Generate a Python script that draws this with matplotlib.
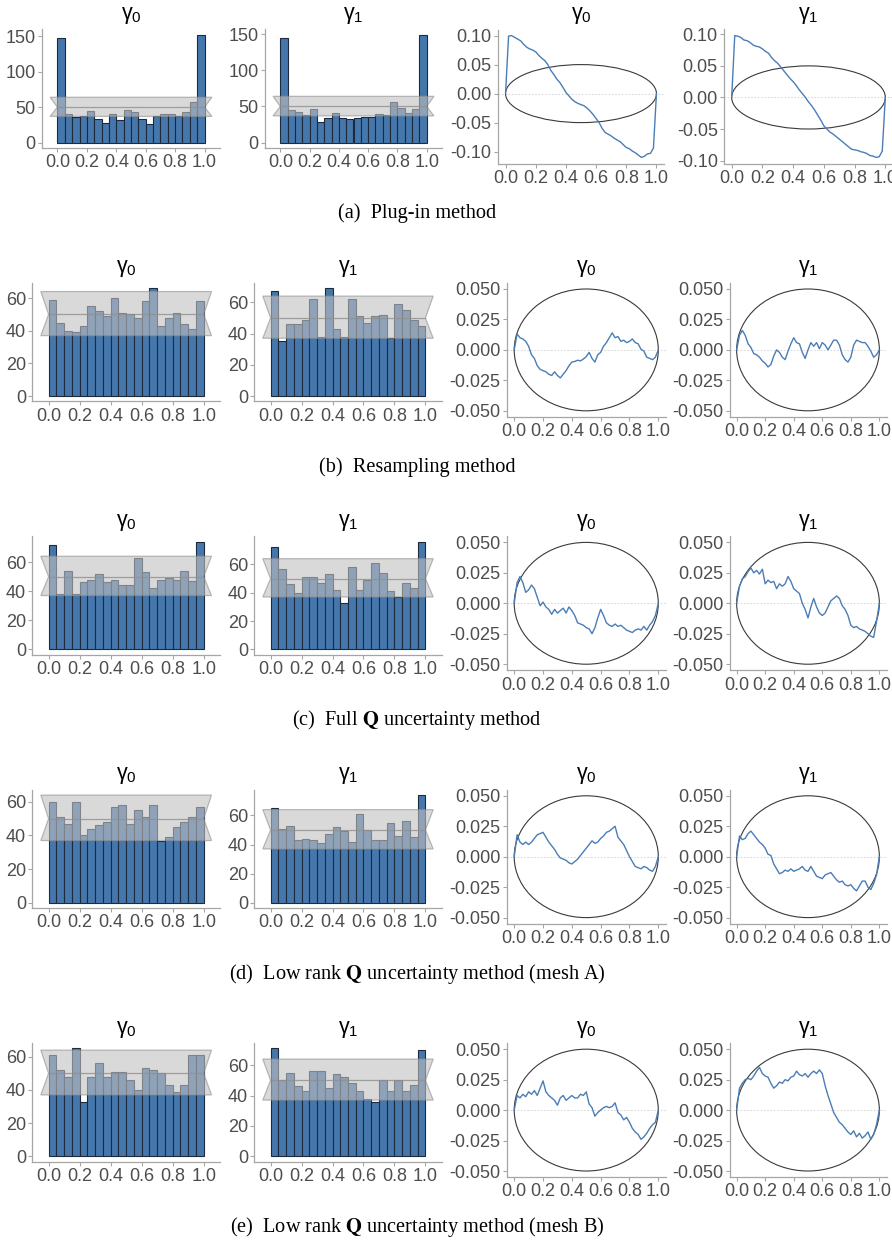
import numpy as np
import matplotlib.pyplot as plt
from matplotlib.patches import Ellipse, Polygon

plt.rcParams['font.family'] = ['Liberation Sans', 'DejaVu Sans']
plt.rcParams['mathtext.fontset'] = 'custom'
plt.rcParams['mathtext.rm'] = 'Liberation Sans'
plt.rcParams['mathtext.it'] = 'Liberation Sans:italic'
plt.rcParams['mathtext.bf'] = 'Liberation Sans:bold'
plt.rcParams['axes.unicode_minus'] = False

# rank histograms: 20 bins on [0, 1], counts per bin
BIN_EDGES = np.linspace(0, 1, 21)
BAND_LOW, BAND_MID, BAND_HIGH = 37, 50, 64

hist_a0 = [147, 40, 36, 38, 44, 33, 27, 40, 32, 46, 43, 34, 26, 38, 41, 41, 38, 43, 58, 152]
hist_a1 = [145, 45, 43, 38, 46, 29, 34, 41, 34, 33, 34, 35, 35, 39, 38, 56, 48, 41, 46, 149]
hist_b0 = [59, 45, 40, 39, 43, 55, 52, 49, 60, 51, 50, 48, 58, 66, 43, 48, 51, 44, 41, 58]
hist_b1 = [67, 35, 46, 46, 49, 62, 38, 69, 43, 38, 62, 51, 47, 51, 52, 37, 59, 55, 49, 45]
hist_c0 = [72, 38, 54, 38, 46, 48, 52, 46, 48, 44, 44, 63, 53, 42, 48, 49, 48, 54, 47, 74]
hist_c1 = [72, 57, 46, 40, 51, 51, 47, 53, 42, 33, 58, 42, 49, 61, 54, 41, 37, 47, 43, 76]
hist_d0 = [60, 51, 47, 60, 40, 44, 46, 48, 57, 58, 47, 55, 51, 58, 37, 39, 45, 48, 51, 57]
hist_d1 = [65, 51, 53, 43, 44, 43, 41, 47, 52, 49, 42, 61, 50, 43, 43, 55, 46, 56, 45, 74]
hist_e0 = [61, 52, 48, 65, 33, 48, 56, 48, 51, 51, 46, 40, 53, 52, 50, 43, 39, 43, 61, 61]
hist_e1 = [71, 50, 55, 46, 43, 56, 56, 45, 54, 52, 48, 43, 38, 36, 50, 43, 50, 43, 47, 70]

# ECDF difference curves sampled every 0.02 on [0, 1]
ECDF_X = np.linspace(0, 1, 51)
ECDF_BAND = 0.1  # full height of the simultaneous band ellipse

ecdf_a0 = [0.0, 0.099, 0.100, 0.097, 0.094, 0.091, 0.085, 0.080, 0.077, 0.075,
           0.072, 0.066, 0.061, 0.057, 0.050, 0.040, 0.033, 0.025, 0.019, 0.011,
           0.002, -0.004, -0.010, -0.014, -0.017, -0.019, -0.021, -0.025, -0.030, -0.036,
           -0.043, -0.050, -0.060, -0.067, -0.070, -0.073, -0.077, -0.080, -0.083, -0.088,
           -0.093, -0.095, -0.099, -0.102, -0.106, -0.110, -0.108, -0.104, -0.103, -0.094, 0.0]
ecdf_a1 = [0.0, 0.098, 0.097, 0.095, 0.091, 0.090, 0.087, 0.083, 0.081, 0.080,
           0.077, 0.073, 0.070, 0.063, 0.058, 0.054, 0.048, 0.042, 0.036, 0.030,
           0.025, 0.019, 0.012, 0.006, 0.000, -0.007, -0.013, -0.020, -0.028, -0.036,
           -0.045, -0.050, -0.055, -0.058, -0.062, -0.066, -0.070, -0.074, -0.078, -0.082,
           -0.083, -0.084, -0.086, -0.087, -0.089, -0.092, -0.093, -0.095, -0.094, -0.085, 0.0]
ecdf_b0 = [0.0, 0.013, 0.010, 0.009, 0.007, 0.003, -0.004, -0.007, -0.013, -0.016,
           -0.017, -0.018, -0.020, -0.021, -0.018, -0.021, -0.023, -0.020, -0.017, -0.013,
           -0.010, -0.0095, -0.0085, -0.009, -0.0075, -0.0055, -0.002, -0.007, -0.010, -0.004,
           -0.002, 0.003, 0.006, 0.010, 0.014, 0.010, 0.011, 0.007, 0.008, 0.006,
           0.007, 0.009, 0.006, 0.005, 0.0005, -0.001, -0.006, -0.007, -0.008, -0.006, 0.0]
ecdf_b1 = [0.0, 0.012, 0.016, 0.012, 0.005, 0.002, -0.003, -0.004, -0.006, -0.009,
           -0.011, -0.014, -0.012, -0.005, 0.0, -0.002, -0.006, -0.008, -0.001, 0.005,
           0.010, 0.006, 0.005, -0.002, -0.007, 0.0, 0.006, 0.003, 0.006, 0.001,
           0.006, 0.004, 0.0, 0.004, 0.008, 0.008, 0.004, -0.004, -0.008, -0.010,
           -0.006, 0.004, 0.008, 0.007, 0.006, 0.006, 0.003, -0.001, -0.006, -0.004, 0.0]
ecdf_c0 = [0.0, 0.017, 0.022, 0.017, 0.009, 0.011, 0.015, 0.012, 0.005, -0.002,
           0.001, -0.003, -0.005, -0.009, -0.005, -0.008, -0.006, -0.004, -0.008, -0.003,
           -0.006, -0.010, -0.016, -0.017, -0.018, -0.020, -0.021, -0.025, -0.020, -0.012,
           -0.005, -0.010, -0.016, -0.018, -0.019, -0.017, -0.019, -0.018, -0.020, -0.022,
           -0.023, -0.024, -0.022, -0.021, -0.022, -0.019, -0.022, -0.018, -0.015, -0.010, 0.0]
ecdf_c1 = [0.0, 0.014, 0.020, 0.022, 0.026, 0.029, 0.025, 0.027, 0.024, 0.028,
           0.016, 0.019, 0.017, 0.018, 0.012, 0.016, 0.014, 0.016, 0.022, 0.018,
           0.012, 0.010, 0.008, 0.000, -0.005, -0.012, -0.003, 0.004, -0.003, -0.008,
           -0.010, -0.008, -0.003, 0.002, 0.004, 0.006, 0.004, -0.002, -0.005, -0.010,
           -0.018, -0.020, -0.019, -0.021, -0.022, -0.023, -0.025, -0.027, -0.028, -0.015, 0.0]
ecdf_d0 = [0.0, 0.018, 0.012, 0.010, 0.012, 0.010, 0.012, 0.015, 0.018, 0.019,
           0.020, 0.016, 0.012, 0.009, 0.006, 0.002, -0.001, -0.002, -0.003, -0.005,
           -0.006, -0.004, -0.002, 0.001, 0.004, 0.007, 0.010, 0.013, 0.011, 0.012,
           0.015, 0.017, 0.020, 0.021, 0.023, 0.025, 0.016, 0.013, 0.010, 0.005,
           0.000, -0.004, -0.008, -0.009, -0.010, -0.008, -0.009, -0.011, -0.012, -0.008, 0.0]
ecdf_d1 = [0.0, 0.017, 0.014, 0.015, 0.019, 0.021, 0.018, 0.015, 0.012, 0.010,
           0.007, 0.002, 0.001, -0.006, -0.010, -0.014, -0.013, -0.011, -0.012, -0.010,
           -0.012, -0.011, -0.010, -0.008, -0.011, -0.012, -0.008, -0.012, -0.016, -0.017,
           -0.018, -0.015, -0.014, -0.013, -0.016, -0.019, -0.021, -0.020, -0.023, -0.024,
           -0.023, -0.026, -0.028, -0.024, -0.020, -0.020, -0.025, -0.027, -0.022, -0.015, 0.0]
ecdf_e0 = [0.0, 0.012, 0.010, 0.013, 0.011, 0.015, 0.013, 0.016, 0.012, 0.018,
           0.024, 0.015, 0.012, 0.010, 0.008, 0.004, 0.010, 0.012, 0.008, 0.010,
           0.012, 0.010, 0.010, 0.013, 0.012, 0.015, 0.005, 0.002, -0.005, -0.002,
           0.000, 0.002, 0.003, 0.002, 0.003, 0.006, -0.002, -0.004, -0.008, -0.006,
           -0.010, -0.015, -0.018, -0.020, -0.024, -0.022, -0.019, -0.015, -0.012, -0.010, 0.0]
ecdf_e1 = [0.0, 0.018, 0.022, 0.025, 0.026, 0.025, 0.028, 0.032, 0.035, 0.030,
           0.028, 0.027, 0.022, 0.018, 0.020, 0.023, 0.022, 0.025, 0.024, 0.027,
           0.028, 0.032, 0.029, 0.028, 0.030, 0.027, 0.030, 0.032, 0.030, 0.033,
           0.030, 0.020, 0.012, 0.005, -0.002, -0.006, -0.010, -0.012, -0.015, -0.018,
           -0.020, -0.017, -0.022, -0.019, -0.023, -0.021, -0.018, -0.024, -0.020, -0.012, 0.0]

captions = [r'(a)  Plug-in method',
            r'(b)  Resampling method',
            r'(c)  Full $\mathbf{Q}$ uncertainty method',
            r'(d)  Low rank $\mathbf{Q}$ uncertainty method (mesh A)',
            r'(e)  Low rank $\mathbf{Q}$ uncertainty method (mesh B)']
rows = [(hist_a0, hist_a1, ecdf_a0, ecdf_a1),
        (hist_b0, hist_b1, ecdf_b0, ecdf_b1),
        (hist_c0, hist_c1, ecdf_c0, ecdf_c1),
        (hist_d0, hist_d1, ecdf_d0, ecdf_d1),
        (hist_e0, hist_e1, ecdf_e0, ecdf_e1)]
titles = [r'$\mathrm{\gamma}_0$', r'$\mathrm{\gamma}_1$']

BAR_BLUE = '#4677AC'
BAR_EDGE = '#1d2a3b'
LINE_BLUE = '#4a7db5'
BAND_GREY = '#c0c0c0'
BAND_EDGE = '#8f8f8f'
AXIS_GREY = '#a6a6a6'
TICK_TEXT = '#4d4d4d'

W, H = 892, 1245
fig = plt.figure(figsize=(W / 100, H / 100), dpi=100)


def place(left, top, right, bottom):
    return fig.add_axes([left / W, 1 - bottom / H, (right - left) / W, (bottom - top) / H])


def style(ax):
    for s in ('top', 'right'):
        ax.spines[s].set_visible(False)
    for s in ('left', 'bottom'):
        ax.spines[s].set_color(AXIS_GREY)
        ax.spines[s].set_linewidth(0.9)
    ax.tick_params(colors=AXIS_GREY, labelcolor=TICK_TEXT, labelsize=13,
                   length=3, width=0.8, pad=1.5)
    ax.set_xticks([0, 0.2, 0.4, 0.6, 0.8, 1.0])
    ax.set_xticklabels(['%.1f' % v for v in ax.get_xticks()])


def rank_hist(ax, counts):
    ax.bar(BIN_EDGES[:-1], counts, width=0.05, align='edge', color=BAR_BLUE,
           edgecolor=BAR_EDGE, linewidth=0.8, zorder=1)
    band = Polygon([(-0.05, BAND_HIGH), (1.05, BAND_HIGH), (1.0, BAND_MID),
                    (1.05, BAND_LOW), (-0.05, BAND_LOW), (0.0, BAND_MID)],
                   closed=True, facecolor=BAND_GREY, edgecolor=BAND_EDGE,
                   linewidth=0.9, alpha=0.6, zorder=2)
    ax.add_patch(band)
    ax.plot([0, 1], [BAND_MID, BAND_MID], color=BAND_EDGE, lw=0.9, alpha=0.8, zorder=3)
    top = max(max(counts), BAND_HIGH)
    ax.set_xlim(-0.105, 1.105)
    ax.set_ylim(-0.05 * top, 1.05 * top)
    step = 50 if top > 100 else 20
    ax.set_yticks(np.arange(0, 1.05 * top, step))
    ax.set_yticklabels(['%d' % v for v in ax.get_yticks()])
    style(ax)


def ecdf_diff(ax, y):
    ax.axhline(0, color='#d0d0d0', lw=0.6, ls=(0, (2, 2)), zorder=1)
    ax.add_patch(Ellipse((0.5, 0), 1.0, ECDF_BAND, fill=False,
                         edgecolor='#3a3a3a', lw=0.8, zorder=2))
    ax.plot(ECDF_X, y, color=LINE_BLUE, lw=1.0, zorder=3)
    lo = min(min(y), -ECDF_BAND / 2)
    hi = max(max(y), ECDF_BAND / 2)
    pad = 0.05 * (hi - lo)
    ax.set_xlim(-0.05, 1.05)
    ax.set_ylim(lo - pad, hi + pad)
    style(ax)
    if hi > 0.06:
        ax.set_yticks([-0.10, -0.05, 0.0, 0.05, 0.10])
        ax.set_yticklabels(['%.2f' % v for v in ax.get_yticks()])
    else:
        ax.set_yticks([-0.05, -0.025, 0.0, 0.025, 0.05])
        ax.set_yticklabels(['%.3f' % v for v in ax.get_yticks()])


for k, (h0, h1, e0, e1) in enumerate(rows):
    top = 29.5 + 253.4 * k
    hb = top + 118.5
    eb = top + 134
    if k == 0:
        boxes = [(42, 220), (265, 442), (498, 664), (724, 893)]
    else:
        boxes = [(32.3, 220), (254.3, 441.7), (507, 665.5), (729.5, 886.5)]
    data = [h0, h1, e0, e1]
    for j, ((l, r), d) in enumerate(zip(boxes, data)):
        if j < 2:
            ax = place(l, top, r, hb)
            rank_hist(ax, d)
        else:
            ax = place(l, top, r, eb)
            ecdf_diff(ax, d)
        fig.text((l + r) / 2 / W, 1 - (top - 14) / H, titles[j % 2],
                 ha='center', va='center', fontsize=15.5, color='black')
    fig.text(417 / W, 1 - (top + 184) / H, captions[k], ha='center', va='center',
             fontsize=14.6, family='Liberation Serif', math_fontfamily='stix')

fig.savefig('out.png', dpi=100)
